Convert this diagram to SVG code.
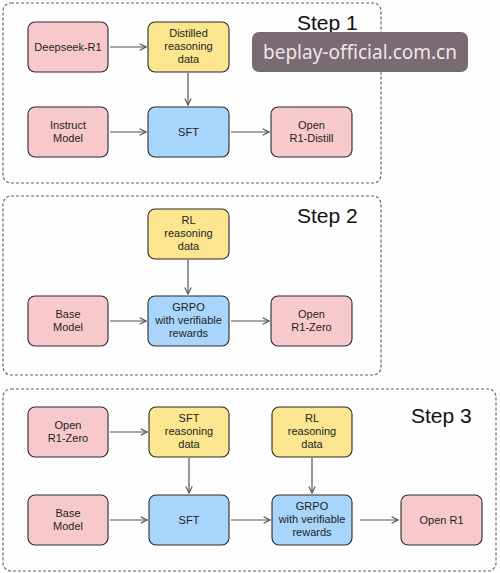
<svg xmlns="http://www.w3.org/2000/svg" width="500" height="573" viewBox="0 0 500 573">
<style>
.frame{fill:none;stroke:#666;stroke-width:1.2;stroke-dasharray:3 2}
.n{stroke:#2b2b2b;stroke-width:1.1}
.pink{fill:#f8c9cc}
.yel{fill:#fbe58f}
.blue{fill:#a8d5fb}
.t{font-family:"Liberation Sans",Arial,sans-serif;font-size:11px;fill:#1e1e1e;text-anchor:middle}
.st{font-family:"Liberation Sans",Arial,sans-serif;font-size:21px;fill:#111}
.c{stroke:#555;stroke-width:1.2;fill:none;marker-end:url(#ah)}
</style>
<defs>
<marker id="ah" viewBox="0 0 10 10" refX="9" refY="5" markerWidth="8" markerHeight="8" orient="auto" markerUnits="userSpaceOnUse">
<path d="M1,1 L9,5 L1,9" fill="none" stroke="#555" stroke-width="1.4"/>
</marker>
</defs>
<rect width="500" height="573" fill="#fdfdfd"/>
<g id="frames">
<rect class="frame" x="3" y="3" width="378" height="180" rx="8"/>
<rect class="frame" x="3" y="196" width="378" height="179" rx="8"/>
<rect class="frame" x="3" y="389" width="493" height="182" rx="8"/>
<text class="st" x="297" y="30">Step 1</text>
<text class="st" x="297" y="223">Step 2</text>
<text class="st" x="411" y="423">Step 3</text>
</g>
<g id="connectors">
<path class="c" d="M110,47 H146"/>
<path class="c" d="M188,73 V105"/>
<path class="c" d="M110,132 H146"/>
<path class="c" d="M231,132 H269"/>
<path class="c" d="M188,260 V294"/>
<path class="c" d="M110,321 H146"/>
<path class="c" d="M231,321 H269"/>
<path class="c" d="M110,432 H147"/>
<path class="c" d="M189,458 V493"/>
<path class="c" d="M312,458 V493"/>
<path class="c" d="M110,520 H147"/>
<path class="c" d="M231,520 H270"/>
<path class="c" d="M360,520 H398"/>
</g>
<g id="s1-deepseek"><rect class="n pink" x="28" y="22" width="80" height="50" rx="7"/><text class="t" x="68" y="51">Deepseek-R1</text></g>
<g id="s1-distilled"><rect class="n yel" x="148" y="22" width="81" height="50" rx="7"/><text class="t" x="188.5" y="37">Distilled</text><text class="t" x="188.5" y="50">reasoning</text><text class="t" x="188.5" y="63">data</text></g>
<g id="s1-instruct"><rect class="n pink" x="28" y="107" width="80" height="50" rx="7"/><text class="t" x="68" y="129">Instruct</text><text class="t" x="68" y="142">Model</text></g>
<g id="s1-sft"><rect class="n blue" x="148" y="107" width="81" height="50" rx="7"/><text class="t" x="188.5" y="136">SFT</text></g>
<g id="s1-open"><rect class="n pink" x="271" y="107" width="81" height="50" rx="7"/><text class="t" x="311.5" y="129">Open</text><text class="t" x="311.5" y="142">R1-Distill</text></g>
<g id="s2-rl"><rect class="n yel" x="148" y="209" width="81" height="50" rx="7"/><text class="t" x="188.5" y="224">RL</text><text class="t" x="188.5" y="237">reasoning</text><text class="t" x="188.5" y="250">data</text></g>
<g id="s2-base"><rect class="n pink" x="28" y="296" width="80" height="50" rx="7"/><text class="t" x="68" y="318">Base</text><text class="t" x="68" y="331">Model</text></g>
<g id="s2-grpo"><rect class="n blue" x="148" y="296" width="81" height="50" rx="7"/><text class="t" x="188.5" y="311">GRPO</text><text class="t" x="188.5" y="324">with verifiable</text><text class="t" x="188.5" y="337">rewards</text></g>
<g id="s2-open"><rect class="n pink" x="271" y="296" width="81" height="50" rx="7"/><text class="t" x="311.5" y="318">Open</text><text class="t" x="311.5" y="331">R1-Zero</text></g>
<g id="s3-zero"><rect class="n pink" x="28" y="407" width="80" height="50" rx="7"/><text class="t" x="68" y="429">Open</text><text class="t" x="68" y="442">R1-Zero</text></g>
<g id="s3-sftdata"><rect class="n yel" x="149" y="407" width="80" height="50" rx="7"/><text class="t" x="189" y="422">SFT</text><text class="t" x="189" y="435">reasoning</text><text class="t" x="189" y="448">data</text></g>
<g id="s3-rl"><rect class="n yel" x="272" y="407" width="80" height="50" rx="7"/><text class="t" x="312" y="422">RL</text><text class="t" x="312" y="435">reasoning</text><text class="t" x="312" y="448">data</text></g>
<g id="s3-base"><rect class="n pink" x="28" y="495" width="80" height="50" rx="7"/><text class="t" x="68" y="517">Base</text><text class="t" x="68" y="530">Model</text></g>
<g id="s3-sft"><rect class="n blue" x="149" y="495" width="80" height="50" rx="7"/><text class="t" x="189" y="524">SFT</text></g>
<g id="s3-grpo"><rect class="n blue" x="272" y="495" width="80" height="50" rx="7"/><text class="t" x="312" y="510">GRPO</text><text class="t" x="312" y="523">with verifiable</text><text class="t" x="312" y="536">rewards</text></g>
<g id="s3-open"><rect class="n pink" x="401" y="495" width="81" height="50" rx="7"/><text class="t" x="441.5" y="524">Open R1</text></g>
<g id="watermark">
<rect x="252" y="32" width="216" height="40" rx="7" fill="#75656e" opacity="0.97"/>
<text x="360" y="59" font-family="Noto Sans, sans-serif" font-size="19" fill="#ece8ea" text-anchor="middle">beplay-official.com.cn</text>
</g>
</svg>
